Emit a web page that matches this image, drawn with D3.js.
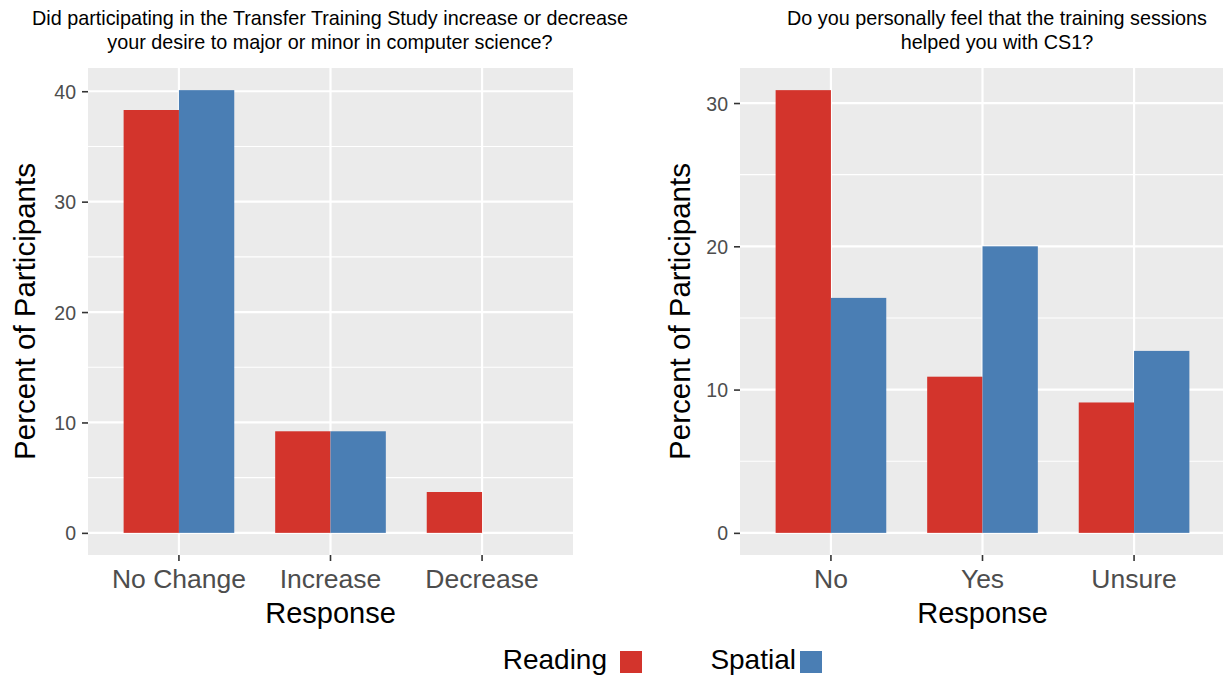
<!DOCTYPE html>
<html>
<head>
<meta charset="utf-8">
<script src="https://cdn.jsdelivr.net/npm/d3@7"></script>
<style>
  html, body { margin: 0; padding: 0; background: #ffffff; }
  svg { display: block; font-family: "Liberation Sans", Arial, Helvetica, sans-serif; }
</style>
</head>
<body>
<svg id="chart" width="1223" height="676"></svg>
<script>
// ---------- data ----------
const seriesNames = ["Reading", "Spatial"];
const seriesColors = ["#D3342C", "#4A7EB4"];

const leftTitle = ["Did participating in the Transfer Training Study increase or decrease",
                   "your desire to major or minor in computer science?"];
const leftCategories = ["No Change", "Increase", "Decrease"];
const leftReading = [38.3, 9.2, 3.7];
const leftSpatial = [40.1, 9.2, 0];
const leftTicks = [0, 10, 20, 30, 40];

const rightTitle = ["Do you personally feel that the training sessions",
                    "helped you with CS1?"];
const rightCategories = ["No", "Yes", "Unsure"];
const rightReading = [30.9, 10.9, 9.1];
const rightSpatial = [16.4, 20.0, 12.7];
const rightTicks = [0, 10, 20, 30];

const xTitle = "Response";
const yTitle = "Percent of Participants";

// ---------- drawing ----------
const svg = d3.select("#chart");
const panelTop = 68, panelBottom = 555;

function drawPanel(opts) {
  const { left, right, categories, reading, spatial, ticks, title, titleX, yLabelX } = opts;
  const g = svg.append("g");
  const maxV = d3.max(reading.concat(spatial));
  const y = d3.scaleLinear()
    .domain([-0.05 * maxV, 1.05 * maxV])
    .range([panelBottom, panelTop]);
  const x = d3.scaleBand()
    .domain(categories)
    .range([left, right])
    .paddingInner(0)
    .paddingOuter(0.1);
  const step = x.bandwidth();
  const dodge = d3.scaleBand()
    .domain(seriesNames)
    .range([-0.365 * step, 0.365 * step]);

  // clip for panel (right panel runs off the page)
  const clipId = "clip" + left;
  svg.append("clipPath").attr("id", clipId)
    .append("rect").attr("x", left).attr("y", panelTop)
    .attr("width", right - left).attr("height", panelBottom - panelTop);

  const pg = g.append("g").attr("clip-path", `url(#${clipId})`);
  pg.append("rect")
    .attr("x", left).attr("y", panelTop)
    .attr("width", right - left).attr("height", panelBottom - panelTop)
    .attr("fill", "#EBEBEB");

  // minor gridlines
  const minor = [];
  for (let i = 0; i < ticks.length - 1; i++) minor.push((ticks[i] + ticks[i + 1]) / 2);
  const lastMinor = ticks[ticks.length - 1] + (ticks[1] - ticks[0]) / 2;
  if (lastMinor < y.domain()[1]) minor.push(lastMinor);
  pg.selectAll("line.minor").data(minor).join("line")
    .attr("x1", left).attr("x2", right)
    .attr("y1", d => y(d)).attr("y2", d => y(d))
    .attr("stroke", "#FFFFFF").attr("stroke-width", 1.1);
  // major y gridlines
  pg.selectAll("line.majory").data(ticks).join("line")
    .attr("x1", left).attr("x2", right)
    .attr("y1", d => y(d)).attr("y2", d => y(d))
    .attr("stroke", "#FFFFFF").attr("stroke-width", 2.2);
  // major x gridlines
  pg.selectAll("line.majorx").data(categories).join("line")
    .attr("x1", d => x(d) + step / 2).attr("x2", d => x(d) + step / 2)
    .attr("y1", panelTop).attr("y2", panelBottom)
    .attr("stroke", "#FFFFFF").attr("stroke-width", 2.2);

  // bars
  const rows = [];
  categories.forEach((c, i) => {
    rows.push({ cat: c, s: seriesNames[0], v: reading[i], col: seriesColors[0] });
    rows.push({ cat: c, s: seriesNames[1], v: spatial[i], col: seriesColors[1] });
  });
  pg.selectAll("rect.bar").data(rows.filter(r => r.v > 0)).join("rect")
    .attr("class", "bar")
    .attr("x", d => x(d.cat) + step / 2 + dodge(d.s))
    .attr("width", dodge.bandwidth())
    .attr("y", d => y(d.v))
    .attr("height", d => y(0) - y(d.v))
    .attr("fill", d => d.col);

  // y axis
  const yAxis = d3.axisLeft(y).tickValues(ticks).tickSize(6).tickPadding(6).tickFormat(d3.format("d"));
  const ya = g.append("g").attr("transform", `translate(${left},0)`).call(yAxis);
  ya.select(".domain").remove();
  ya.selectAll(".tick line").attr("stroke", "#333333").attr("stroke-width", 1.6);
  ya.selectAll(".tick text").attr("fill", "#4D4D4D").style("font-size", "19.5px")
    .attr("font-family", null).attr("dy", "0.36em");

  // x axis
  const xAxis = d3.axisBottom(x).tickSize(6).tickPadding(6);
  const xa = g.append("g").attr("transform", `translate(0,${panelBottom})`).call(xAxis);
  xa.select(".domain").remove();
  xa.selectAll(".tick line").attr("stroke", "#333333").attr("stroke-width", 1.6);
  xa.selectAll(".tick text").attr("fill", "#4D4D4D").style("font-size", "26.5px")
    .attr("font-family", null).attr("dy", null).attr("y", 33);

  // axis titles
  g.append("text")
    .attr("x", (left + Math.min(right, 1223 + (right - 1223))) / 2)
    .attr("y", 623)
    .attr("text-anchor", "middle")
    .style("font-size", "29px").attr("fill", "#000")
    .text(xTitle);
  g.append("text")
    .attr("transform", `translate(${yLabelX},${(panelTop + panelBottom) / 2}) rotate(-90)`)
    .attr("text-anchor", "middle")
    .style("font-size", "29.5px").attr("fill", "#000")
    .text(yTitle);

  // plot title
  const t = g.append("text").attr("text-anchor", "middle")
    .style("font-size", "19.8px").attr("fill", "#000");
  title.forEach((line, i) => {
    t.append("tspan").attr("x", titleX).attr("y", 25 + i * 24).text(line);
  });
}

drawPanel({
  left: 88, right: 573,
  categories: leftCategories, reading: leftReading, spatial: leftSpatial,
  ticks: leftTicks, title: leftTitle, titleX: 330, yLabelX: 35
});
drawPanel({
  left: 740, right: 1225,
  categories: rightCategories, reading: rightReading, spatial: rightSpatial,
  ticks: rightTicks, title: rightTitle, titleX: 997, yLabelX: 690
});

// legend
const legend = svg.append("g");
const legendTextEnd = [607, 796];
const keyX = [620, 800];
seriesNames.forEach((name, i) => {
  legend.append("text")
    .attr("x", legendTextEnd[i]).attr("y", 669)
    .attr("text-anchor", "end")
    .style("font-size", "28px").attr("fill", "#000")
    .text(name);
  legend.append("rect")
    .attr("x", keyX[i]).attr("y", 651)
    .attr("width", 22).attr("height", 22)
    .attr("fill", seriesColors[i]);
});
</script>
</body>
</html>
